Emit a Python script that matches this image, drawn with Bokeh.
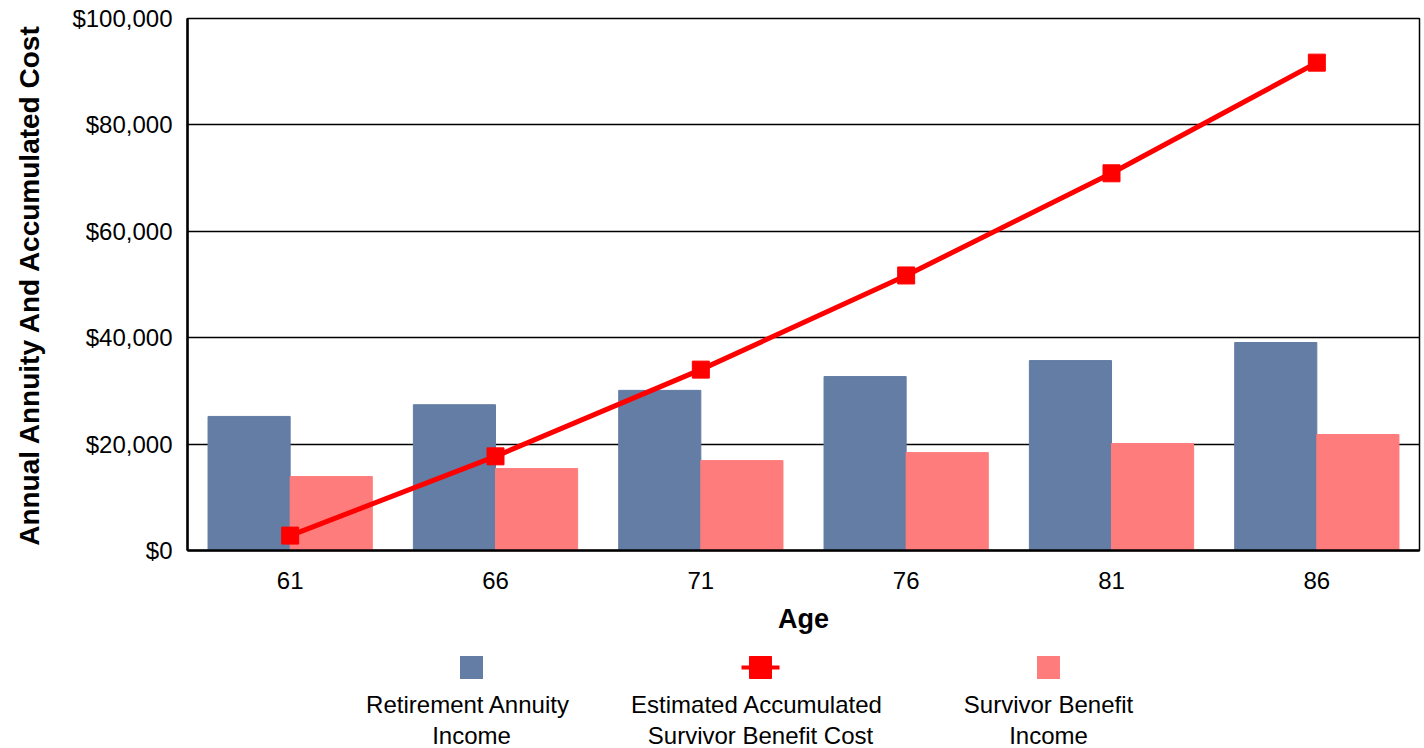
from bokeh.plotting import figure
from bokeh.models import (ColumnDataSource, FactorRange, Range1d, FixedTicker,
                          NumeralTickFormatter)
from bokeh.transform import dodge
from bokeh.layouts import column
from bokeh.core.properties import value
from bokeh.embed import file_html
from bokeh.resources import INLINE

# ---- data ----
ages = ["61", "66", "71", "76", "81", "86"]
retirement_income = [25200, 27400, 30100, 32700, 35700, 39100]
survivor_income = [13900, 15400, 16900, 18400, 20100, 21800]
accumulated_cost = [2800, 17700, 34000, 51700, 70900, 91700]
y_ticks = [0, 20000, 40000, 60000, 80000, 100000]
legend_labels = ["Retirement  Annuity\nIncome",
                 "Estimated  Accumulated\nSurvivor Benefit Cost",
                 "Survivor Benefit\nIncome"]

BLUE = "#637DA5"
PINK = "#FF7C7C"
RED = "#FF0000"
FONT = "Liberation Sans"

src = ColumnDataSource(dict(age=ages, ret=retirement_income,
                            surv=survivor_income, cost=accumulated_cost))

p = figure(x_range=FactorRange(*ages, range_padding=0), y_range=Range1d(0, 100000),
           width=1424, height=640, output_backend="svg", toolbar_location=None,
           min_border_left=187, min_border_right=5, min_border_top=18,
           min_border_bottom=90)

p.vbar(x=dodge("age", -0.2, range=p.x_range), top="ret", width=0.4, source=src,
       fill_color=BLUE, line_color=BLUE)
p.vbar(x=dodge("age", 0.2, range=p.x_range), top="surv", width=0.4, source=src,
       fill_color=PINK, line_color=PINK)
p.line(x="age", y="cost", source=src, line_color=RED, line_width=5)
p.scatter(x="age", y="cost", source=src, marker="square", size=17,
          fill_color=RED, line_color=RED)

p.outline_line_color = "black"
p.outline_line_width = 1.5
p.xgrid.grid_line_color = None
p.ygrid.grid_line_color = "black"
p.ygrid.grid_line_width = 1.3
p.yaxis.ticker = FixedTicker(ticks=y_ticks)
p.yaxis.formatter = NumeralTickFormatter(format="$0,0")

for ax in (p.xaxis[0], p.yaxis[0]):
    ax.axis_line_color = "black"
    ax.axis_line_width = 2.5
    ax.major_tick_line_color = None
    ax.minor_tick_line_color = None
    ax.major_label_text_font = FONT
    ax.major_label_text_font_size = "24px"
    ax.major_label_text_color = "black"
    ax.axis_label_text_font = FONT
    ax.axis_label_text_font_style = "bold"
    ax.axis_label_text_color = "black"

p.yaxis.major_label_standoff = 9
p.yaxis.axis_label = "Annual Annuity And Accumulated Cost"
p.yaxis.axis_label_text_font_size = "28px"
p.yaxis.axis_label_standoff = 24
p.xaxis.major_label_standoff = 15
p.xaxis.axis_label = "Age"
p.xaxis.axis_label_text_font_size = "27px"
p.xaxis.axis_label_standoff = 12

# ---- legend panel (frame aligned with the chart frame; x in pixels) ----
lg = figure(x_range=Range1d(187, 1419), y_range=Range1d(108, 0), width=1424, height=108,
            output_backend="svg", toolbar_location=None,
            min_border_left=187, min_border_right=5,
            min_border_top=0, min_border_bottom=0)
lg.axis.visible = False
lg.grid.visible = False
lg.outline_line_color = None

lx = [471, 760, 1048]
line1 = [s.split("\n")[0] for s in legend_labels]
line2 = [s.split("\n")[1] for s in legend_labels]
lg.rect(x=[lx[0], lx[2]], y=[27, 27], width=23, height=23,
        fill_color=[BLUE, PINK], line_color=None)
lg.line(x=[lx[1] - 19, lx[1] + 19], y=[27, 27], line_color=RED, line_width=4)
lg.scatter(x=[lx[1]], y=[27], marker="square", size=22, fill_color=RED, line_color=RED)
for yy, txt in ((64, line1), (95, line2)):
    lg.text(x=lx, y=[yy] * 3, text=txt, text_align="center",
            text_baseline="middle", text_font=value(FONT), text_font_size="24px",
            text_color="black")

layout = column(p, lg, spacing=0)
open("out.html", "w").write(file_html(layout, INLINE))
